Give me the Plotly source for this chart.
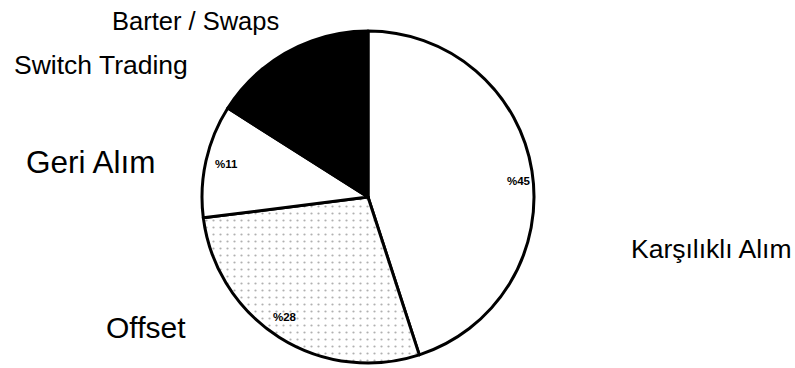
import plotly.graph_objects as go

labels = ["Karşılıklı Alım", "Offset", "Geri Alım", "Switch Trading", "Barter / Swaps"]
values = [45, 28, 11, 5, 11]
pct_text = ["%45", "%28", "%11", "", ""]

W, H = 795, 368
fills = ["white", "white", "white", "black", "black"]
patterns = ["", ".", "", "", ""]

fig = go.Figure(go.Pie(
    labels=labels,
    values=values,
    sort=False,
    direction="clockwise",
    rotation=0,
    textinfo="none",
    hoverinfo="none",
    showlegend=False,
    marker=dict(
        colors=fills,
        line=dict(color="black", width=3),
        pattern=dict(shape=patterns, fgcolor="#b0b0b0", bgcolor="white", size=7, solidity=0.08),
    ),
    domain=dict(x=[(368 - 166) / W, (368 + 166) / W], y=[1 - 363 / H, 1 - 31 / H]),
))

def px(x, y):
    return x / W, 1 - y / H

# outside category labels: (label index, left x px, cap-centre y px, font size)
label_pos = [
    (0, 629, 249, 26.5),
    (1, 104, 327, 30),
    (2, 24, 162, 31.5),
    (3, 12, 65, 26.5),
    (4, 110, 21, 25.5),
]
annotations = []
for i, x, y, s in label_pos:
    ax, ay = px(x, y)
    annotations.append(dict(
        text=labels[i], x=ax, y=ay, xref="paper", yref="paper",
        xanchor="left", yanchor="middle", showarrow=False,
        font=dict(family="Arial, Liberation Sans, sans-serif", size=s, color="black"),
    ))

pct_pos = [(0, 505, 181), (1, 271, 317), (2, 213, 164)]
for i, x, y in pct_pos:
    ax, ay = px(x, y)
    annotations.append(dict(
        text="<b>" + pct_text[i] + "</b>", x=ax, y=ay, xref="paper", yref="paper",
        xanchor="left", yanchor="middle", showarrow=False,
        font=dict(family="Arial, Liberation Sans, sans-serif", size=11.5, color="black"),
    ))

fig.update_layout(
    width=W, height=H,
    margin=dict(l=0, r=0, t=0, b=0),
    paper_bgcolor="white",
    plot_bgcolor="white",
    annotations=annotations,
)

fig.write_html("out.html")
